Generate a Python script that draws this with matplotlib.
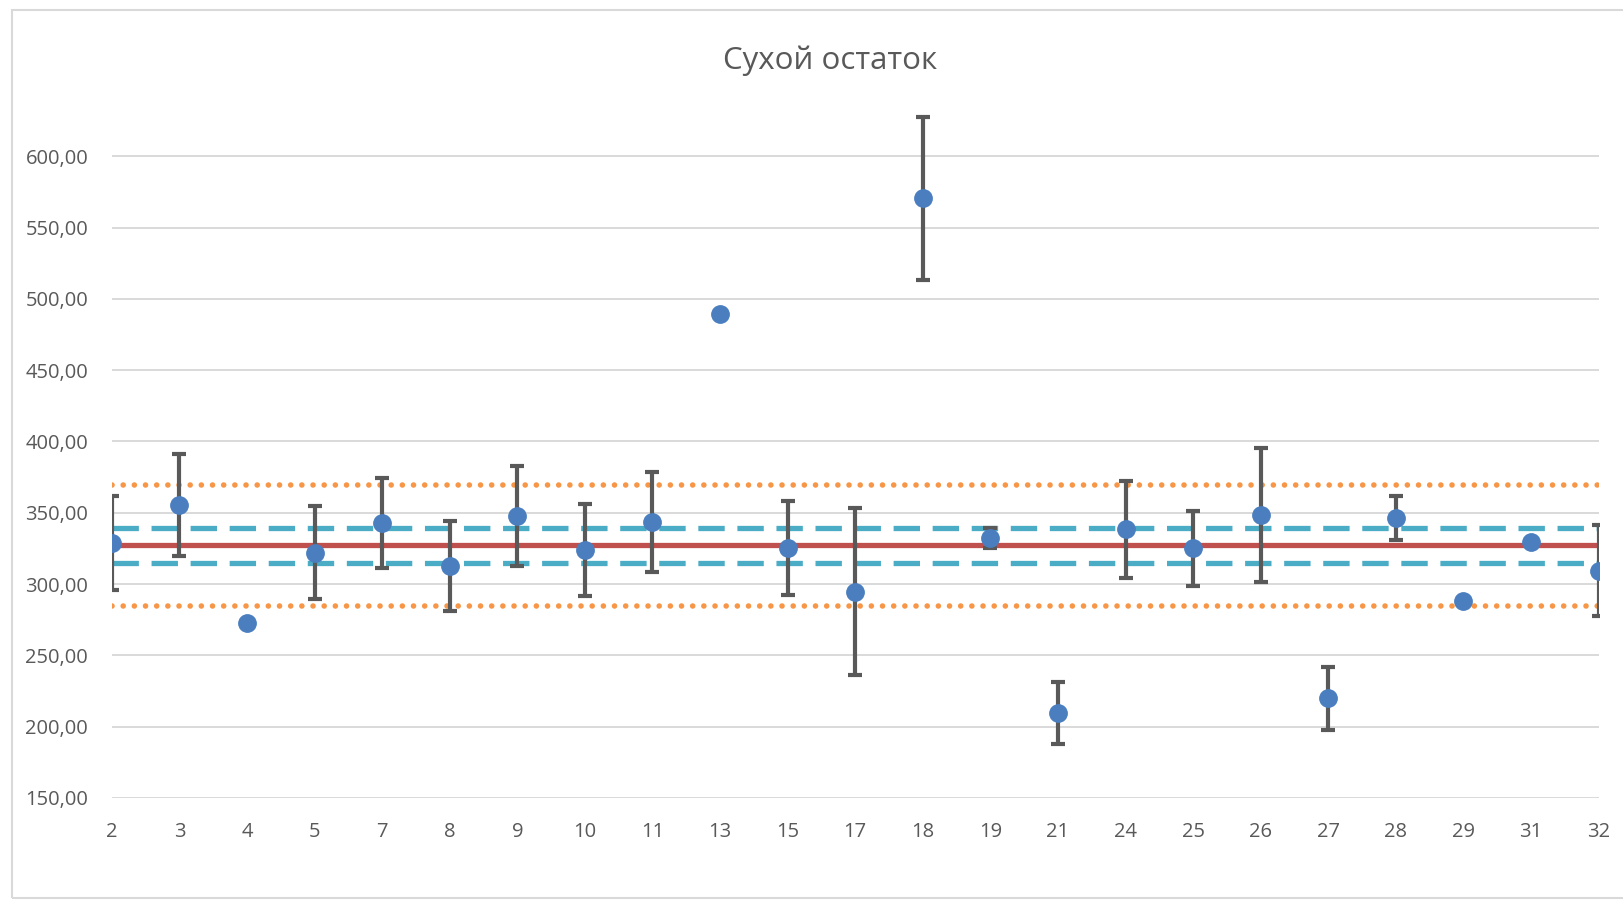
import matplotlib
matplotlib.use("Agg")
import matplotlib.pyplot as plt
from matplotlib.patches import Rectangle

# ---- data ----
categories = ["2", "3", "4", "5", "7", "8", "9", "10", "11", "13", "15", "17",
              "18", "19", "21", "24", "25", "26", "27", "28", "29", "31", "32"]
values = [328.5, 355.5, 272.5, 322.0, 343.0, 312.5, 347.5, 324.0, 343.5, 489.5,
          325.5, 294.5, 570.5, 332.0, 209.5, 338.5, 325.0, 348.5, 220.0, 346.5,
          288.0, 329.5, 309.5]
errors = [33.0, 35.5, 0.0, 32.5, 31.5, 31.5, 35.0, 32.5, 35.0, 0.0,
          33.0, 58.5, 57.0, 7.0, 21.5, 34.0, 26.0, 47.0, 22.0, 15.5,
          0.0, 0.0, 32.0]
mean_level = 327.5
inner_upper = 339.5
inner_lower = 315.0
outer_upper = 369.8
outer_lower = 284.5
yticks = [150, 200, 250, 300, 350, 400, 450, 500, 550, 600]
title = "Сухой остаток"

plt.rcParams['font.family'] = ['Open Sans', 'DejaVu Sans']

W, H, DPI = 1623, 900, 100
fig = plt.figure(figsize=(W / DPI, H / DPI), dpi=DPI)
fig.patch.set_facecolor("white")

# chart border
fig.patches.append(Rectangle((12 / W, 1 - 898 / H), 1.2, (898 - 10) / H,
                             transform=fig.transFigure, fill=False,
                             edgecolor="#D9D9D9", linewidth=1.5))

ax = fig.add_axes([111.8 / W, 1 - 798 / H, (1598.6 - 111.8) / W, (798 - 99.2) / H])
x = list(range(len(categories)))
n = len(categories)

ax.set_xlim(0, n - 1)
ax.set_ylim(150, 640)
ax.set_yticks(yticks)
ax.set_yticklabels([f"{v:.2f}".replace(".", ",") for v in yticks])
ax.set_xticks(x)
ax.set_xticklabels(categories)

for v in yticks:
    ax.axhline(v, color="#D9D9D9", linewidth=1.4, zorder=0)

for s in ax.spines.values():
    s.set_visible(False)
ax.tick_params(axis="both", length=0, colors="#595959", labelsize=14.5)
ax.tick_params(axis="y", pad=17)
ax.tick_params(axis="x", pad=17)

# reference lines
ax.plot(x, [outer_upper] * n, color="#F79646", linewidth=4.0,
        linestyle=(0, (0.01, 2.0)), dash_capstyle="round", zorder=2)
ax.plot(x, [outer_lower] * n, color="#F79646", linewidth=4.0,
        linestyle=(0, (0.01, 2.0)), dash_capstyle="round", zorder=2)
ax.plot(x, [inner_upper] * n, color="#4BACC6", linewidth=3.8,
        linestyle=(0, (5.0, 2.4)), zorder=2)
ax.plot(x, [inner_lower] * n, color="#4BACC6", linewidth=3.8,
        linestyle=(0, (5.0, 2.4)), zorder=2)
ax.plot(x, [mean_level] * n, color="#C0504D", linewidth=3.8, zorder=2)

# error bars
ex = [xi for xi, e in zip(x, errors) if e > 0]
ey = [v for v, e in zip(values, errors) if e > 0]
ee = [e for e in errors if e > 0]
ax.errorbar(ex, ey, yerr=ee, fmt="none", ecolor="#595959", elinewidth=3,
            capsize=5, capthick=3, zorder=3)

# markers
ax.plot(x, values, linestyle="none", marker="o", markersize=12.5,
        color="#4A7EBF", markeredgecolor="#4A7EBF", zorder=4)

fig.text(830 / W, 1 - 61 / H, title, ha="center", va="center",
         fontsize=22.5, color="#595959")

fig.savefig("out.png", dpi=DPI)
